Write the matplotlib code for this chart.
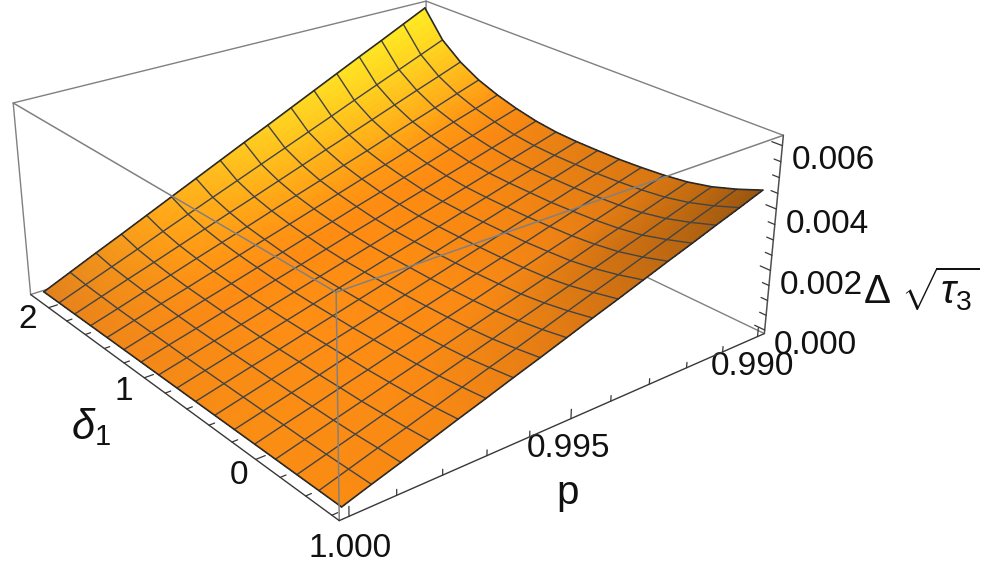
import numpy as np, matplotlib
matplotlib.use('Agg')
import matplotlib.pyplot as plt
from mpl_toolkits.mplot3d import proj3d

W,H=997,567
plt.rcParams['font.family']=['Liberation Sans','DejaVu Sans']
plt.rcParams['mathtext.fontset']='custom'
plt.rcParams['mathtext.rm']='Liberation Sans'
plt.rcParams['mathtext.it']='Liberation Sans:italic'
plt.rcParams['mathtext.bf']='Liberation Sans:bold'

# grid: rows follow delta, columns follow p
delta=np.linspace(-0.6,2.15,17)
p=np.linspace(1.0,0.99,17)
# surface height in units of 1e-3
z_rows=[
 [0,.29,.57,.86,1.15,1.43,1.72,2.00,2.29,2.58,2.86,3.15,3.44,3.72,4.01,4.29,4.58],
 [0,.27,.54,.80,1.07,1.34,1.61,1.87,2.14,2.41,2.68,2.94,3.21,3.48,3.75,4.01,4.28],
 [0,.25,.50,.76,1.01,1.26,1.51,1.76,2.02,2.27,2.52,2.77,3.02,3.27,3.53,3.78,4.03],
 [0,.24,.48,.72,.97,1.21,1.45,1.69,1.93,2.17,2.41,2.65,2.90,3.14,3.38,3.62,3.86],
 [0,.24,.47,.71,.94,1.18,1.41,1.65,1.88,2.12,2.35,2.59,2.82,3.06,3.29,3.53,3.76],
 [0,.23,.46,.69,.93,1.16,1.39,1.62,1.85,2.08,2.31,2.54,2.78,3.01,3.24,3.47,3.70],
 [0,.23,.46,.69,.92,1.14,1.37,1.60,1.83,2.06,2.29,2.52,2.75,2.97,3.20,3.43,3.66],
 [0,.23,.46,.68,.91,1.14,1.37,1.60,1.83,2.05,2.28,2.51,2.74,2.97,3.19,3.42,3.65],
 [0,.23,.46,.68,.91,1.14,1.37,1.60,1.83,2.05,2.28,2.51,2.74,2.97,3.19,3.42,3.65],
 [0,.23,.46,.69,.92,1.15,1.38,1.61,1.84,2.07,2.30,2.53,2.76,2.99,3.22,3.45,3.68],
 [0,.24,.47,.71,.94,1.18,1.41,1.65,1.89,2.12,2.36,2.59,2.83,3.06,3.30,3.53,3.77],
 [0,.25,.49,.74,.98,1.23,1.47,1.72,1.96,2.21,2.45,2.70,2.94,3.19,3.43,3.68,3.92],
 [0,.26,.52,.77,1.03,1.29,1.55,1.80,2.06,2.32,2.58,2.83,3.09,3.35,3.61,3.86,4.12],
 [0,.27,.55,.82,1.10,1.37,1.64,1.92,2.19,2.46,2.74,3.01,3.29,3.56,3.83,4.11,4.38],
 [0,.30,.60,.89,1.19,1.49,1.79,2.08,2.38,2.68,2.98,3.27,3.57,3.87,4.17,4.46,4.76],
 [0,.33,.66,.99,1.33,1.66,1.99,2.32,2.65,2.98,3.31,3.64,3.98,4.31,4.64,4.97,5.30],
 [0,.39,.78,1.16,1.55,1.94,2.33,2.72,3.11,3.49,3.88,4.27,4.66,5.05,5.43,5.82,6.21],
]
z_table=np.array(z_rows)*1e-3

P0,P1=1.0002,0.9898
D0,D1=-0.655,2.205
Z0,Z1=-0.00012,0.00632
p_ticks=[1.0,0.999,0.998,0.997,0.996,0.995,0.994,0.993,0.992,0.991,0.99]
d_ticks=[-0.6,-0.4,-0.2,0,0.2,0.4,0.6,0.8,1,1.2,1.4,1.6,1.8,2]
z_ticks=[0,0.0005,0.001,0.0015,0.002,0.0025,0.003,0.0035,0.004,0.0045,0.005,0.0055,0.006]

# surface colour as seen in the picture, over the delta (su) and p (st) fractions
su=np.array([0,.125,.25,.5,.65,.75,.875,1])
st=np.array([0,.25,.5,.75,1])
shade=np.array([
 [(250,140,20),(245,135,20),(225,122,20),(190,105,18),(150,85,15)],
 [(250,140,20),(250,138,20),(235,130,20),(205,112,18),(190,105,16)],
 [(250,142,20),(253,140,20),(250,138,20),(235,128,20),(215,118,18)],
 [(245,138,22),(254,142,20),(254,140,18),(248,136,18),(228,126,20)],
 [(243,135,24),(254,140,20),(254,140,18),(254,140,18),(245,135,18)],
 [(240,135,25),(255,148,20),(255,152,20),(255,155,20),(255,152,20)],
 [(234,132,26),(255,158,22),(255,178,25),(255,190,28),(255,195,30)],
 [(225,130,30),(255,168,26),(255,205,33),(255,228,36),(255,238,36)]],float)/255

S=4123.515*0.185
fig=plt.figure(figsize=(W/100,H/100),dpi=100)
ax=fig.add_axes([-1.97/W,(H-610.3)/H,S/W,S/H],projection='3d',computed_zorder=False)
ax.set_xlim(P0,P1);ax.set_ylim(D0,D1);ax.set_zlim(Z0,Z1)
ax.view_init(24.4491,-128.4986)
ax.set_proj_type('persp',focal_length=0.4434)
ax.set_box_aspect((0.9972,1,0.3995),zoom=1)
ax.set_axis_off()

def line(x,y,z,c,lw,zo):
    ax.plot(x,y,z,color=c,lw=lw,zorder=zo,clip_on=False,solid_capstyle='round')

GR='#808080';DK='#383838'
# box edges on the far side, behind the surface
line([P1,P1],[D1,D1],[Z0,Z1],GR,1,1)
line([P0,P1],[D1,D1],[Z0,Z0],GR,1,1)
line([P1,P1],[D0,D1],[Z0,Z0],GR,1,1)
line([P0,P1],[D1,D1],[Z1,Z1],GR,1,1)
line([P1,P1],[D0,D1],[Z1,Z1],GR,1,1)
line([P0,P0],[D1,D1],[Z0,Z1],GR,1,1)

# surface: each mesh cell is split for a smooth colour
n=5
ui=np.linspace(0,16,16*n+1);ti=np.linspace(0,16,16*n+1)
idx=np.arange(17)
Zf=np.array([np.interp(ti,idx,r) for r in z_table])
Zf=np.array([np.interp(ui,idx,c) for c in Zf.T]).T
Df=np.interp(ui,idx,delta);Pf=np.interp(ti,idx,p)
PP,DD=np.meshgrid(Pf,Df)
uu,tt=ui/16,ti/16
C=np.zeros(PP.shape+(4,));C[...,3]=1
for k in range(3):
    a=np.array([np.interp(tt,st,shade[i,:,k]) for i in range(len(su))])
    C[...,k]=np.array([np.interp(uu,su,a[:,j]) for j in range(len(tt))]).T
s=ax.plot_surface(PP,DD,Zf,facecolors=C,rstride=1,cstride=1,shade=False,linewidth=0,antialiased=False,zorder=2)
s.set_clip_on(False)

# mesh lines and outline
for i in range(1,16):
    line(p,np.full(17,delta[i]),z_table[i],'#444444',1,3)
    line(np.full(17,p[i]),delta,z_table[:,i],'#444444',1,3)
for i in (0,16):
    line(p,np.full(17,delta[i]),z_table[i],'#2a2a2a',1.2,3)
    line(np.full(17,p[i]),delta,z_table[:,i],'#2a2a2a',1.2,3)

# near box edges, over the surface
line([P0,P0],[D0,D0],[Z0,Z1],GR,1.1,4)
line([P0,P0],[D0,D1],[Z1,Z1],GR,1.1,4)
line([P0,P1],[D0,D0],[Z1,Z1],GR,1.1,4)
# axes
line([P0,P0],[D0,D1],[Z0,Z0],DK,1,4)
line([P0,P1],[D0,D0],[Z0,Z0],DK,1,4)
line([P1,P1],[D0,D0],[Z0,Z1],'#505050',1.1,4)

def pr(x,y,z):
    X,Y,_=proj3d.proj_transform(x,y,z,ax.get_proj())
    return float(X),float(Y)
def label(txt,x,y,z,dx,dy):
    ax.annotate(txt,xy=pr(x,y,z),xytext=(dx,-dy),textcoords='offset pixels',ha='center',va='center',
                fontsize=24,annotation_clip=False,color='#111111')
for v in p_ticks:
    maj=v in (1.0,0.995,0.99)
    line([v,v],[D0,D0],[Z0,Z0+(0.00030 if maj else 0.00018)],DK,0.9,4)
    if maj:
        dx,dy={1.0:(1,32),0.995:(-2,30),0.99:(-5,30)}[v]
        label(f'{v:.3f}',v,D0,Z0,dx,dy)
for v in d_ticks:
    maj=v in (0,1,2)
    line([P0,P0-(0.00020 if maj else 0.00012)],[v,v],[Z0,Z0],DK,0.9,4)
    if maj:
        dx,dy={2:(-20.5,12),1:(-21,14),0:(-17,16)}[v]
        label(str(v),P0,v,Z0,dx,dy)
for v in z_ticks:
    maj=v in (0,0.002,0.004,0.006)
    line([P1,P1],[D0,D0+(0.07 if maj else 0.045)],[v,v],DK,0.9,4)
    if maj: label(f'{v:.3f}',P1,D0,v,51,15)

fig.text(568/W,1-493/H,'p',fontsize=29,ha='center',va='center',color='#111111')
fig.text(91/W,1-427/H,r'$\delta_1$',fontsize=30,ha='center',va='center',color='#111111')
fig.text(921/W,1-289/H,r'$\mathrm{\Delta}\ \sqrt{\tau_3}$',fontsize=29,ha='center',va='center',color='#111111')
fig.savefig('out.png',dpi=100)
